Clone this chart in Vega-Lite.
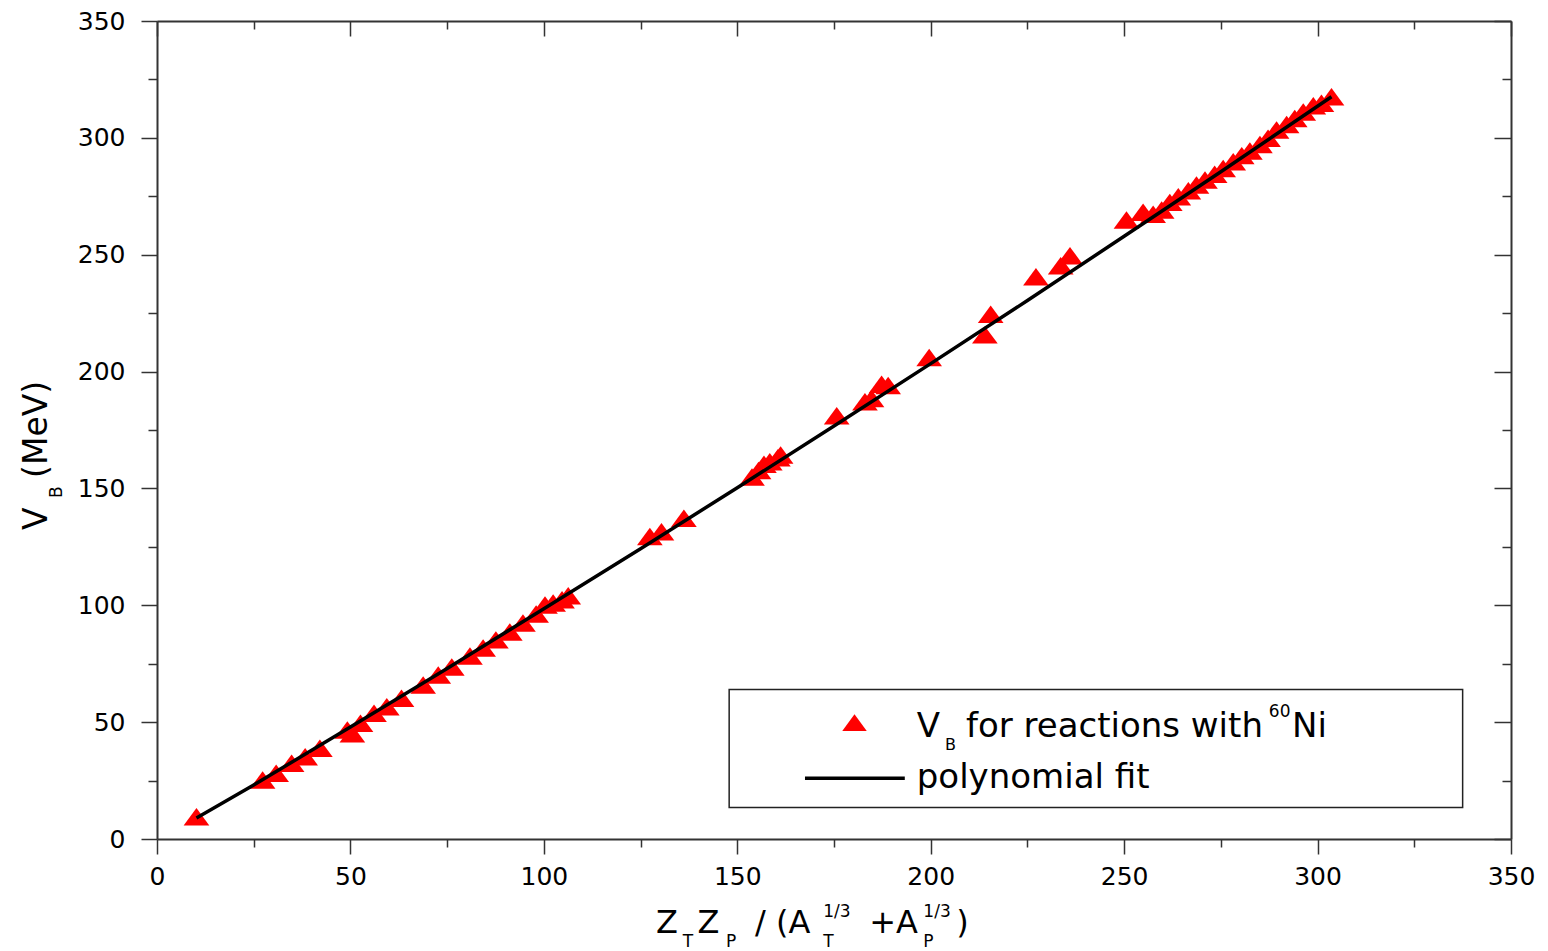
{
  "$schema": "https://vega.github.io/schema/vega-lite/v6.json",
  "width": 1354,
  "height": 818,
  "autosize": {"type": "none"},
  "padding": {"left": 157, "top": 21, "right": 37, "bottom": 112},
  "background": "white",
  "config": {"view": {"stroke": null}, "text": {"font": "DejaVu Sans", "color": "black", "align": "left", "baseline": "alphabetic"}},
  "datasets": {
    "points": [
      {"x": 10.2, "y": 9.5},
      {"x": 27.3, "y": 25.2}, {"x": 30.8, "y": 28.1}, {"x": 34.8, "y": 32.4}, {"x": 38.3, "y": 35.2}, {"x": 42.1, "y": 38.8},
      {"x": 49.2, "y": 46.6}, {"x": 50.5, "y": 45.0}, {"x": 52.6, "y": 49.5}, {"x": 56.1, "y": 53.8}, {"x": 59.4, "y": 56.6},
      {"x": 63.2, "y": 60.2}, {"x": 68.8, "y": 65.9}, {"x": 72.7, "y": 70.2}, {"x": 76.2, "y": 73.6}, {"x": 80.9, "y": 78.3},
      {"x": 84.3, "y": 81.7}, {"x": 87.6, "y": 85.2}, {"x": 91.2, "y": 88.6}, {"x": 94.6, "y": 92.4}, {"x": 98.0, "y": 96.3},
      {"x": 100.3, "y": 100.1}, {"x": 102.4, "y": 101.0}, {"x": 104.7, "y": 102.4}, {"x": 106.3, "y": 104.1},
      {"x": 127.4, "y": 129.4}, {"x": 130.4, "y": 131.5}, {"x": 136.2, "y": 137.2},
      {"x": 153.8, "y": 154.9}, {"x": 155.5, "y": 157.7}, {"x": 156.9, "y": 160.3}, {"x": 158.4, "y": 161.4}, {"x": 160.5, "y": 163.1}, {"x": 161.2, "y": 164.3},
      {"x": 175.7, "y": 181.1}, {"x": 183.0, "y": 187.1}, {"x": 184.7, "y": 188.5}, {"x": 187.3, "y": 194.6}, {"x": 189.0, "y": 194.0},
      {"x": 199.6, "y": 206.0}, {"x": 214.0, "y": 215.7}, {"x": 215.5, "y": 224.5},
      {"x": 227.2, "y": 240.6}, {"x": 233.6, "y": 245.3}, {"x": 236.0, "y": 249.6},
      {"x": 250.6, "y": 264.9}, {"x": 254.9, "y": 268.2}, {"x": 257.5, "y": 267.3}, {"x": 259.7, "y": 269.1}, {"x": 261.8, "y": 272.4},
      {"x": 264.0, "y": 274.8}, {"x": 266.6, "y": 277.4}, {"x": 268.7, "y": 279.8}, {"x": 270.9, "y": 282.0}, {"x": 273.4, "y": 284.4},
      {"x": 275.6, "y": 286.9}, {"x": 278.2, "y": 289.8}, {"x": 280.4, "y": 292.4}, {"x": 282.5, "y": 294.4}, {"x": 285.1, "y": 297.2},
      {"x": 287.2, "y": 299.8}, {"x": 289.4, "y": 303.4}, {"x": 292.0, "y": 305.7}, {"x": 294.1, "y": 308.3}, {"x": 296.3, "y": 311.1},
      {"x": 298.9, "y": 313.7}, {"x": 301.0, "y": 314.8}, {"x": 303.6, "y": 317.6}
    ],
    "fit": [
      {"x": 10.2, "y": 9.0}, {"x": 25, "y": 23.1}, {"x": 50, "y": 47.9}, {"x": 75, "y": 73.0}, {"x": 100, "y": 98.5},
      {"x": 125, "y": 124.2}, {"x": 150, "y": 150.3}, {"x": 175, "y": 176.7}, {"x": 200, "y": 203.4}, {"x": 225, "y": 230.4},
      {"x": 250, "y": 257.9}, {"x": 275, "y": 285.5}, {"x": 303.6, "y": 317.6}
    ],
    "one": [{}]
  },
  "resolve": {"axis": {"x": "independent", "y": "independent"}},
  "layer": [
    {
      "data": {"name": "points"},
      "mark": {"type": "point", "shape": "M0,-0.68L1,0.68L-1,0.68Z", "size": 660, "filled": true, "color": "#ff0000", "opacity": 1, "strokeWidth": 0},
      "encoding": {
        "x": {"field": "x", "type": "quantitative", "scale": {"domain": [0, 350], "nice": false},
          "axis": {"orient": "top", "values": [0,25,50,75,100,125,150,175,200,225,250,275,300,325,350], "labels": false, "title": null, "grid": false,
            "tickSize": {"condition": {"test": "datum.value % 50 === 0", "value": -15}, "value": -8},
            "domainColor": "#333333", "domainWidth": 2, "tickColor": "#333333", "tickWidth": 1.5}},
        "y": {"field": "y", "type": "quantitative", "scale": {"domain": [0, 350], "nice": false},
          "axis": {"orient": "right", "values": [0,25,50,75,100,125,150,175,200,225,250,275,300,325,350], "labels": false, "title": null, "grid": false,
            "tickSize": {"condition": {"test": "datum.value % 50 === 0", "value": -17}, "value": -9},
            "domainColor": "#333333", "domainWidth": 2, "tickColor": "#333333", "tickWidth": 1.5}}
      }
    },
    {
      "data": {"name": "fit"},
      "mark": {"type": "line", "color": "black", "strokeWidth": 3.5},
      "encoding": {
        "x": {"field": "x", "type": "quantitative", "scale": {"domain": [0, 350], "nice": false},
          "axis": {"orient": "bottom", "values": [0,25,50,75,100,125,150,175,200,225,250,275,300,325,350], "title": null, "grid": false,
            "labelExpr": "datum.value % 50 === 0 ? datum.label : ''", "labelOverlap": false, "labelFlush": false, "labelFont": "DejaVu Sans", "labelFontSize": 25, "labelColor": "black", "labelPadding": 10,
            "tickSize": {"condition": {"test": "datum.value % 50 === 0", "value": 15}, "value": 8},
            "domainColor": "#333333", "domainWidth": 2, "tickColor": "#333333", "tickWidth": 1.5}},
        "y": {"field": "y", "type": "quantitative", "scale": {"domain": [0, 350], "nice": false},
          "axis": {"orient": "left", "values": [0,25,50,75,100,125,150,175,200,225,250,275,300,325,350], "title": null, "grid": false,
            "labelExpr": "datum.value % 50 === 0 ? datum.label : ''", "labelOverlap": false, "labelFlush": false, "labelFont": "DejaVu Sans", "labelFontSize": 25, "labelColor": "black", "labelPadding": 16,
            "tickSize": {"condition": {"test": "datum.value % 50 === 0", "value": 16}, "value": 9},
            "domainColor": "#333333", "domainWidth": 2, "tickColor": "#333333", "tickWidth": 1.5}}
      }
    },
    {
      "data": {"name": "one"},
      "mark": {"type": "rect", "filled": false, "color": "#222222", "strokeWidth": 1.5},
      "encoding": {
        "x": {"datum": 147.9, "type": "quantitative", "scale": {"domain": [0, 350]}, "axis": null},
        "x2": {"datum": 337.5},
        "y": {"datum": 64.0, "type": "quantitative", "scale": {"domain": [0, 350]}, "axis": null},
        "y2": {"datum": 13.5}
      }
    },
    {
      "data": {"name": "one"},
      "mark": {"type": "point", "shape": "M0,-0.68L1,0.68L-1,0.68Z", "size": 600, "filled": true, "color": "#ff0000", "opacity": 1, "strokeWidth": 0},
      "encoding": {
        "x": {"datum": 180.3, "type": "quantitative", "scale": {"domain": [0, 350]}, "axis": null},
        "y": {"datum": 49.8, "type": "quantitative", "scale": {"domain": [0, 350]}, "axis": null}
      }
    },
    {
      "data": {"name": "one"},
      "mark": {"type": "rule", "color": "black", "strokeWidth": 3.5},
      "encoding": {
        "x": {"datum": 167.5, "type": "quantitative", "scale": {"domain": [0, 350]}, "axis": null},
        "x2": {"datum": 193.3},
        "y": {"datum": 26.0, "type": "quantitative", "scale": {"domain": [0, 350]}, "axis": null}
      }
    },
    {"data": {"name": "one"}, "mark": {"type": "text", "text": "V", "fontSize": 34},
      "encoding": {"x": {"datum": 196.4, "type": "quantitative", "scale": {"domain": [0, 350]}, "axis": null}, "y": {"datum": 43.6, "type": "quantitative", "scale": {"domain": [0, 350]}, "axis": null}}},
    {"data": {"name": "one"}, "mark": {"type": "text", "text": "B", "fontSize": 16},
      "encoding": {"x": {"datum": 203.7, "type": "quantitative", "scale": {"domain": [0, 350]}, "axis": null}, "y": {"datum": 38.1, "type": "quantitative", "scale": {"domain": [0, 350]}, "axis": null}}},
    {"data": {"name": "one"}, "mark": {"type": "text", "text": "for reactions with", "fontSize": 34},
      "encoding": {"x": {"datum": 209.1, "type": "quantitative", "scale": {"domain": [0, 350]}, "axis": null}, "y": {"datum": 43.6, "type": "quantitative", "scale": {"domain": [0, 350]}, "axis": null}}},
    {"data": {"name": "one"}, "mark": {"type": "text", "text": "60", "fontSize": 17},
      "encoding": {"x": {"datum": 287.4, "type": "quantitative", "scale": {"domain": [0, 350]}, "axis": null}, "y": {"datum": 52.3, "type": "quantitative", "scale": {"domain": [0, 350]}, "axis": null}}},
    {"data": {"name": "one"}, "mark": {"type": "text", "text": "Ni", "fontSize": 34},
      "encoding": {"x": {"datum": 293.4, "type": "quantitative", "scale": {"domain": [0, 350]}, "axis": null}, "y": {"datum": 43.6, "type": "quantitative", "scale": {"domain": [0, 350]}, "axis": null}}},
    {"data": {"name": "one"}, "mark": {"type": "text", "text": "polynomial fit", "fontSize": 34},
      "encoding": {"x": {"datum": 196.4, "type": "quantitative", "scale": {"domain": [0, 350]}, "axis": null}, "y": {"datum": 21.8, "type": "quantitative", "scale": {"domain": [0, 350]}, "axis": null}}},
    {"data": {"name": "one"}, "mark": {"type": "text", "text": "Z", "fontSize": 32},
      "encoding": {"x": {"datum": 129.0, "type": "quantitative", "scale": {"domain": [0, 350]}, "axis": null}, "y": {"datum": -40.4, "type": "quantitative", "scale": {"domain": [0, 350]}, "axis": null}}},
    {"data": {"name": "one"}, "mark": {"type": "text", "text": "T", "fontSize": 17},
      "encoding": {"x": {"datum": 135.9, "type": "quantitative", "scale": {"domain": [0, 350]}, "axis": null}, "y": {"datum": -46.1, "type": "quantitative", "scale": {"domain": [0, 350]}, "axis": null}}},
    {"data": {"name": "one"}, "mark": {"type": "text", "text": "Z", "fontSize": 32},
      "encoding": {"x": {"datum": 139.7, "type": "quantitative", "scale": {"domain": [0, 350]}, "axis": null}, "y": {"datum": -40.4, "type": "quantitative", "scale": {"domain": [0, 350]}, "axis": null}}},
    {"data": {"name": "one"}, "mark": {"type": "text", "text": "P", "fontSize": 17},
      "encoding": {"x": {"datum": 147.1, "type": "quantitative", "scale": {"domain": [0, 350]}, "axis": null}, "y": {"datum": -46.1, "type": "quantitative", "scale": {"domain": [0, 350]}, "axis": null}}},
    {"data": {"name": "one"}, "mark": {"type": "text", "text": "/ (A", "fontSize": 32},
      "encoding": {"x": {"datum": 154.6, "type": "quantitative", "scale": {"domain": [0, 350]}, "axis": null}, "y": {"datum": -40.4, "type": "quantitative", "scale": {"domain": [0, 350]}, "axis": null}}},
    {"data": {"name": "one"}, "mark": {"type": "text", "text": "T", "fontSize": 17},
      "encoding": {"x": {"datum": 172.2, "type": "quantitative", "scale": {"domain": [0, 350]}, "axis": null}, "y": {"datum": -46.1, "type": "quantitative", "scale": {"domain": [0, 350]}, "axis": null}}},
    {"data": {"name": "one"}, "mark": {"type": "text", "text": "1/3", "fontSize": 17},
      "encoding": {"x": {"datum": 172.2, "type": "quantitative", "scale": {"domain": [0, 350]}, "axis": null}, "y": {"datum": -33.2, "type": "quantitative", "scale": {"domain": [0, 350]}, "axis": null}}},
    {"data": {"name": "one"}, "mark": {"type": "text", "text": "+A", "fontSize": 32},
      "encoding": {"x": {"datum": 184.1, "type": "quantitative", "scale": {"domain": [0, 350]}, "axis": null}, "y": {"datum": -40.4, "type": "quantitative", "scale": {"domain": [0, 350]}, "axis": null}}},
    {"data": {"name": "one"}, "mark": {"type": "text", "text": "P", "fontSize": 17},
      "encoding": {"x": {"datum": 198.1, "type": "quantitative", "scale": {"domain": [0, 350]}, "axis": null}, "y": {"datum": -46.1, "type": "quantitative", "scale": {"domain": [0, 350]}, "axis": null}}},
    {"data": {"name": "one"}, "mark": {"type": "text", "text": "1/3", "fontSize": 17},
      "encoding": {"x": {"datum": 198.1, "type": "quantitative", "scale": {"domain": [0, 350]}, "axis": null}, "y": {"datum": -33.2, "type": "quantitative", "scale": {"domain": [0, 350]}, "axis": null}}},
    {"data": {"name": "one"}, "mark": {"type": "text", "text": ")", "fontSize": 32},
      "encoding": {"x": {"datum": 206.6, "type": "quantitative", "scale": {"domain": [0, 350]}, "axis": null}, "y": {"datum": -40.4, "type": "quantitative", "scale": {"domain": [0, 350]}, "axis": null}}},
    {"data": {"name": "one"}, "mark": {"type": "text", "text": "V", "fontSize": 33, "angle": 270},
      "encoding": {"x": {"datum": -28.4, "type": "quantitative", "scale": {"domain": [0, 350]}, "axis": null}, "y": {"datum": 132.2, "type": "quantitative", "scale": {"domain": [0, 350]}, "axis": null}}},
    {"data": {"name": "one"}, "mark": {"type": "text", "text": "B", "fontSize": 17, "angle": 270},
      "encoding": {"x": {"datum": -24.6, "type": "quantitative", "scale": {"domain": [0, 350]}, "axis": null}, "y": {"datum": 145.9, "type": "quantitative", "scale": {"domain": [0, 350]}, "axis": null}}},
    {"data": {"name": "one"}, "mark": {"type": "text", "text": "(MeV)", "fontSize": 33, "angle": 270},
      "encoding": {"x": {"datum": -28.4, "type": "quantitative", "scale": {"domain": [0, 350]}, "axis": null}, "y": {"datum": 154.5, "type": "quantitative", "scale": {"domain": [0, 350]}, "axis": null}}}
  ]
}
